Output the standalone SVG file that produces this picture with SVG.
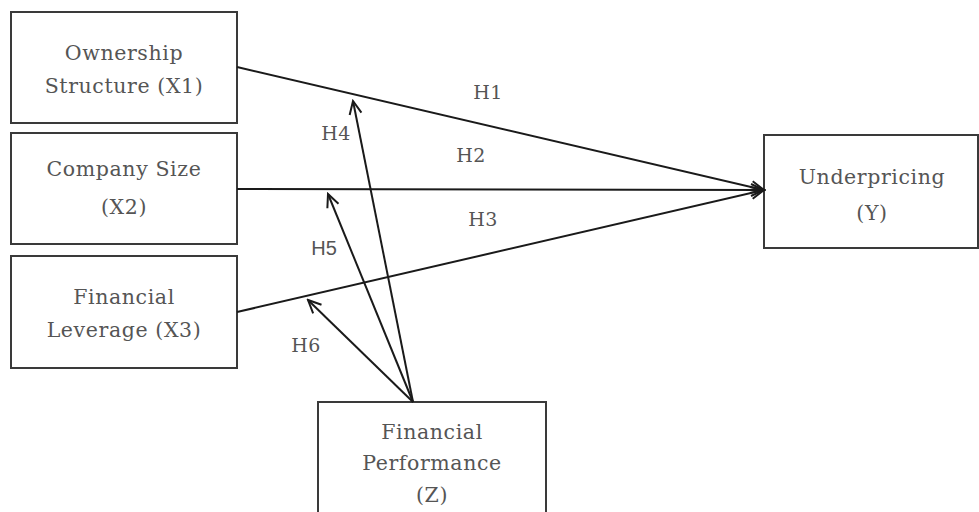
<svg xmlns="http://www.w3.org/2000/svg" width="979" height="512" viewBox="0 0 979 512">
<style>
.box{fill:#fff;stroke:#3a3a3a;stroke-width:2}
.t{font-family:"DejaVu Serif","Liberation Serif",serif;font-size:20.5px;letter-spacing:0.6px;fill:#555;text-anchor:middle}
.h{font-family:"DejaVu Serif","Liberation Serif",serif;font-size:19px;letter-spacing:0.5px;fill:#555;text-anchor:middle}
.hs{font-family:"Liberation Sans",Arial,sans-serif;font-size:20px;fill:#555;text-anchor:middle}
.c{fill:none;stroke:#1a1a1a;stroke-width:2}
</style>
<defs>
<marker id="arr" markerUnits="userSpaceOnUse" markerWidth="18" markerHeight="18" viewBox="0 0 18 18" refX="16" refY="9" orient="auto">
<path d="M3,3 L16,9 L3,15" fill="none" stroke="#1a1a1a" stroke-width="2"/>
</marker>
</defs>
<rect width="979" height="512" fill="#fff"/>
<g id="x1"><rect class="box" x="11" y="12" width="226" height="111"/><text class="t" x="124" y="60">Ownership</text><text class="t" x="124" y="93">Structure (X1)</text></g>
<g id="x2"><rect class="box" x="11" y="133" width="226" height="111"/><text class="t" x="124" y="176">Company Size</text><text class="t" x="124" y="214">(X2)</text></g>
<g id="x3"><rect class="box" x="11" y="256" width="226" height="112"/><text class="t" x="124" y="304">Financial</text><text class="t" x="124" y="337">Leverage (X3)</text></g>
<g id="y"><rect class="box" x="764" y="135" width="214" height="113"/><text class="t" x="872" y="184">Underpricing</text><text class="t" x="872" y="220">(Y)</text></g>
<g id="z"><rect class="box" x="318" y="402" width="228" height="115"/><text class="t" x="432" y="439">Financial</text><text class="t" x="432" y="470">Performance</text><text class="t" x="432" y="502">(Z)</text></g>
<g id="connectors">
<line class="c" x1="237" y1="67" x2="764" y2="190" marker-end="url(#arr)"/>
<line class="c" x1="237" y1="189" x2="764" y2="190" marker-end="url(#arr)"/>
<line class="c" x1="237" y1="312" x2="764" y2="190" marker-end="url(#arr)"/>
<line class="c" x1="413" y1="402" x2="353" y2="101" marker-end="url(#arr)"/>
<line class="c" x1="413" y1="402" x2="328" y2="194" marker-end="url(#arr)"/>
<line class="c" x1="413" y1="402" x2="308" y2="300" marker-end="url(#arr)"/>
</g>
<g id="labels">
<text class="h" x="488" y="99">H1</text>
<text class="h" x="471" y="162">H2</text>
<text class="h" x="483" y="226">H3</text>
<text class="h" x="336" y="140">H4</text>
<text class="hs" x="324" y="255">H5</text>
<text class="h" x="306" y="352">H6</text>
</g>
</svg>
